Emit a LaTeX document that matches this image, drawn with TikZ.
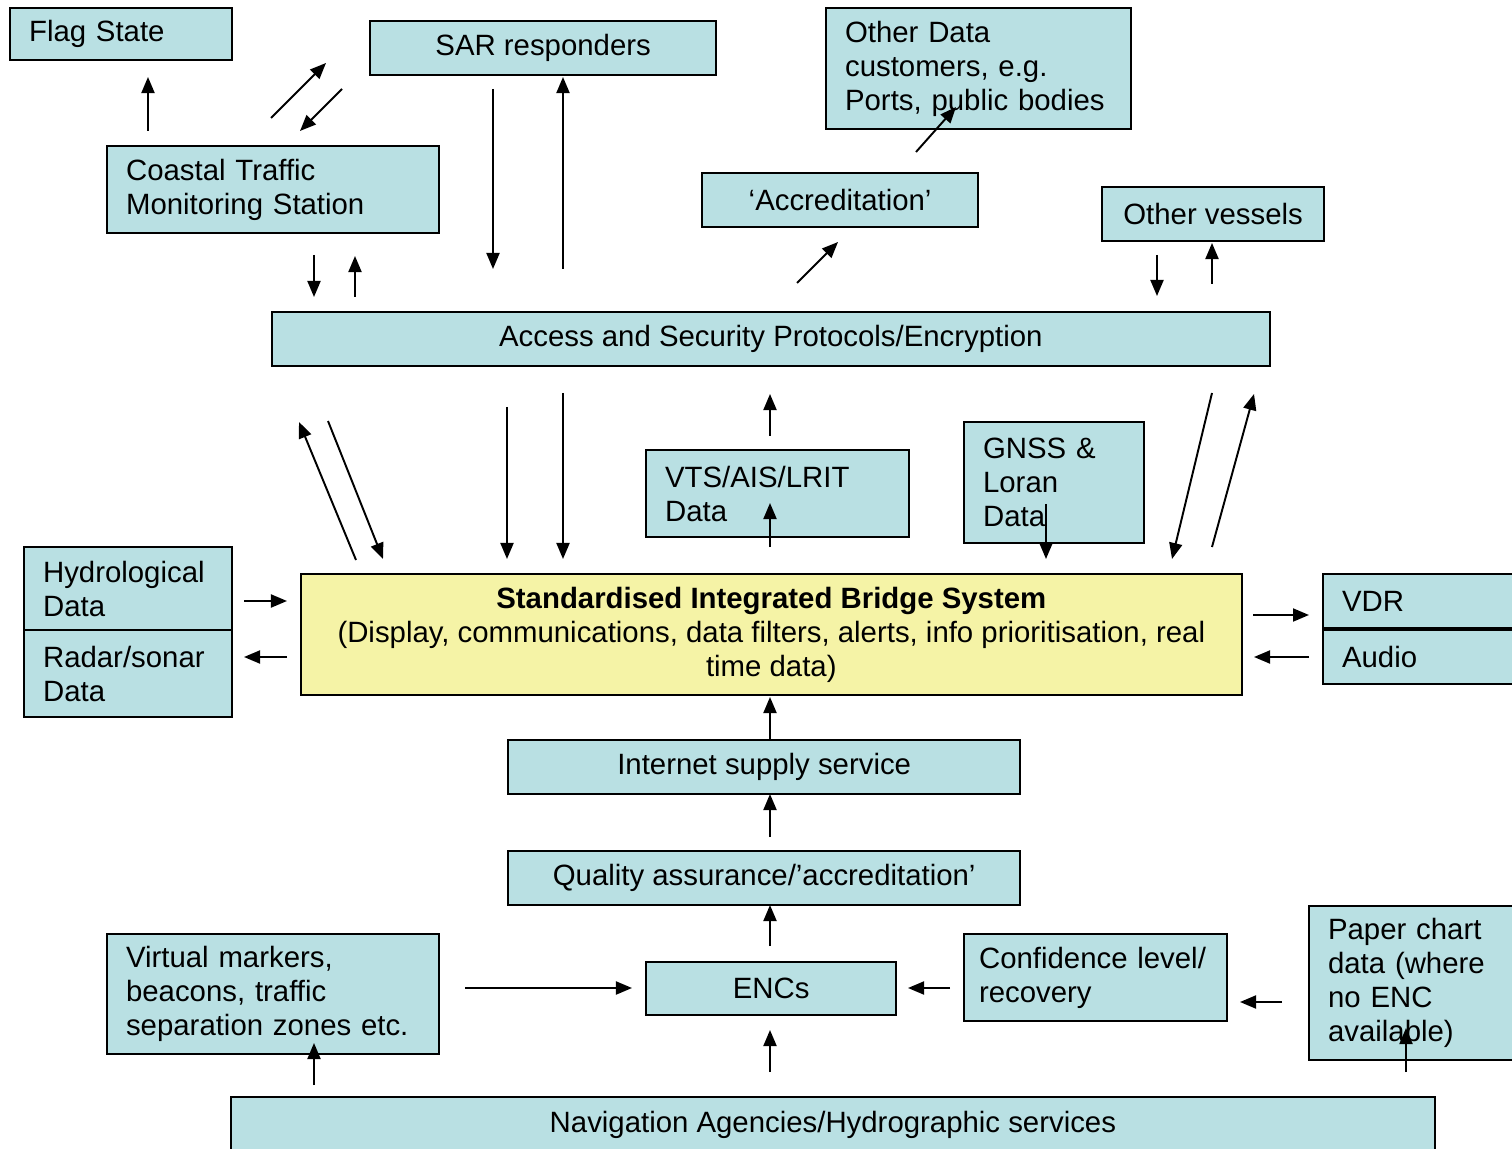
\documentclass[tikz,border=0pt]{standalone}
\usepackage{fontspec}
\setmainfont{Liberation Sans}
\usetikzlibrary{arrows.meta}
\definecolor{boxblue}{RGB}{185,224,227}
\definecolor{boxyellow}{RGB}{245,243,166}
\tikzset{
  box/.style={draw, fill=boxblue, line width=0.6pt, anchor=north west, inner sep=0pt,
    font=\fontsize{8.35}{9.67}\selectfont},
  cbox/.style={box, align=center},
  lbox/.style={box, align=left, inner xsep=0.19cm},
  arr/.style={line width=0.55pt, -{Triangle[length=1.6mm,width=1.3mm]}}
}
\begin{document}
\begin{tikzpicture}[x=0.01cm,y=-0.01cm]
\useasboundingbox (0,0) rectangle (1512,1149);

% boxes
\node[lbox, minimum width=2.22cm, minimum height=0.52cm, text width=1.84cm] (flag) at (9,7) {Flag State};
\node[cbox, minimum width=3.46cm, minimum height=0.54cm] (sar) at (369,20) {SAR responders};
\node[lbox, minimum width=3.05cm, minimum height=1.21cm, text width=2.67cm] (odata) at (825,7) {Other Data\\customers, e.g.\\Ports, public bodies};
\node[lbox, minimum width=3.32cm, minimum height=0.87cm, text width=2.94cm] (ctms) at (106,145) {Coastal Traffic\\Monitoring Station};
\node[cbox, minimum width=2.76cm, minimum height=0.54cm] (accr) at (701,172) {‘Accreditation’};
\node[cbox, minimum width=2.22cm, minimum height=0.54cm] (vessels) at (1101,186) {Other vessels};
\node[cbox, minimum width=9.97cm, minimum height=0.54cm] (access) at (271,311) {Access and Security Protocols/Encryption};
\node[lbox, minimum width=2.63cm, minimum height=0.87cm, text width=2.25cm] (vts) at (645,449) {VTS/AIS/LRIT\\Data};
\node[lbox, minimum width=1.80cm, minimum height=1.21cm, text width=1.42cm] (gnss) at (963,421) {GNSS \&\\Loran\\Data};
\node[lbox, minimum width=2.08cm, minimum height=0.83cm, text width=1.70cm] (hydro) at (23,546) {Hydrological\\Data};
\node[lbox, minimum width=2.08cm, minimum height=0.87cm, text width=1.70cm] (radar) at (23,629) {Radar/sonar\\Data};
\node[cbox, fill=boxyellow, minimum width=9.40cm, minimum height=1.21cm] (sibs) at (300,573) {\textbf{Standardised Integrated Bridge System}\\(Display, communications, data filters, alerts, info prioritisation, real\\time data)};
\node[lbox, minimum width=2.20cm, minimum height=0.54cm, text width=1.82cm] (vdr) at (1322,573) {VDR};
\node[lbox, minimum width=2.20cm, minimum height=0.54cm, text width=1.82cm] (audio) at (1322,629) {Audio};
\node[cbox, minimum width=5.12cm, minimum height=0.54cm] (internet) at (507,739) {Internet supply service};
\node[cbox, minimum width=5.12cm, minimum height=0.54cm] (qa) at (507,850) {Quality assurance/’accreditation’};
\node[cbox, minimum width=2.50cm, minimum height=0.53cm] (encs) at (645,961) {ENCs};
\node[lbox, minimum width=3.32cm, minimum height=1.20cm, text width=2.94cm] (virtual) at (106,933) {Virtual markers,\\beacons, traffic\\separation zones etc.};
\node[lbox, minimum width=2.63cm, minimum height=0.87cm, text width=2.33cm, inner xsep=0.15cm] (conf) at (963,933) {Confidence level/\\recovery};
\node[lbox, minimum width=2.30cm, minimum height=1.54cm, text width=1.92cm] (paper) at (1308,905) {Paper chart\\data (where\\no ENC\\available)};
\node[cbox, minimum width=12.03cm, minimum height=0.56cm] (nav) at (230,1096) {Navigation Agencies/Hydrographic services};

% arrow ends
\coordinate (flag-a) at (148,131);   \coordinate (flag-b) at (148,77);
\coordinate (sar-a) at (271,118);    \coordinate (sar-b) at (326,63);
\coordinate (sar-c) at (342,89);     \coordinate (sar-d) at (300,131);
\coordinate (ctms-a) at (314,255);   \coordinate (ctms-b) at (314,297);
\coordinate (ctms-c) at (355,297);   \coordinate (ctms-d) at (355,256);
\coordinate (sar-e) at (493,89);     \coordinate (sar-f) at (493,269);
\coordinate (sar-g) at (563,269);    \coordinate (sar-h) at (563,77);
\coordinate (odata-a) at (916,152);  \coordinate (odata-b) at (956,107);
\coordinate (accr-a) at (797,283);   \coordinate (accr-b) at (838,242);
\coordinate (ves-a) at (1157,255);   \coordinate (ves-b) at (1157,296);
\coordinate (ves-c) at (1212,284);   \coordinate (ves-d) at (1212,243);
\coordinate (acc-a) at (356,560);    \coordinate (acc-b) at (299,422);
\coordinate (acc-c) at (328,421);    \coordinate (acc-d) at (383,559);
\coordinate (acc-e) at (507,407);    \coordinate (acc-f) at (507,559);
\coordinate (acc-g) at (563,393);    \coordinate (acc-h) at (563,559);
\coordinate (vts-a) at (770,436);    \coordinate (vts-b) at (770,394);
\coordinate (vts-c) at (770,547);    \coordinate (vts-d) at (770,503);
\coordinate (gnss-a) at (1046,504);  \coordinate (gnss-b) at (1046,559);
\coordinate (acc-i) at (1212,393);   \coordinate (acc-j) at (1172,559);
\coordinate (acc-k) at (1212,547);   \coordinate (acc-l) at (1254,394);
\coordinate (hydro-a) at (244,601);  \coordinate (hydro-b) at (287,601);
\coordinate (radar-a) at (287,657);  \coordinate (radar-b) at (244,657);
\coordinate (vdr-a) at (1253,615);   \coordinate (vdr-b) at (1309,615);
\coordinate (audio-a) at (1309,657); \coordinate (audio-b) at (1254,657);
\coordinate (int-a) at (770,739);    \coordinate (int-b) at (770,697);
\coordinate (qa-a) at (770,837);     \coordinate (qa-b) at (770,794);
\coordinate (encs-a) at (770,946);   \coordinate (encs-b) at (770,905);
\coordinate (virt-a) at (465,988);   \coordinate (virt-b) at (632,988);
\coordinate (conf-a) at (950,988);   \coordinate (conf-b) at (908,988);
\coordinate (paper-a) at (1282,1002);\coordinate (paper-b) at (1240,1002);
\coordinate (nav-a) at (314,1085);   \coordinate (nav-b) at (314,1043);
\coordinate (nav-c) at (770,1072);   \coordinate (nav-d) at (770,1030);
\coordinate (nav-e) at (1406,1072);  \coordinate (nav-f) at (1406,1028);

% arrows
\draw[arr] (flag-a) -- (flag-b);
\draw[arr] (sar-a) -- (sar-b);
\draw[arr] (sar-c) -- (sar-d);
\draw[arr] (ctms-a) -- (ctms-b);
\draw[arr] (ctms-c) -- (ctms-d);
\draw[arr] (sar-e) -- (sar-f);
\draw[arr] (sar-g) -- (sar-h);
\draw[arr] (odata-a) -- (odata-b);
\draw[arr] (accr-a) -- (accr-b);
\draw[arr] (ves-a) -- (ves-b);
\draw[arr] (ves-c) -- (ves-d);
\draw[arr] (acc-a) -- (acc-b);
\draw[arr] (acc-c) -- (acc-d);
\draw[arr] (acc-e) -- (acc-f);
\draw[arr] (acc-g) -- (acc-h);
\draw[arr] (vts-a) -- (vts-b);
\draw[arr] (vts-c) -- (vts-d);
\draw[arr] (gnss-a) -- (gnss-b);
\draw[arr] (acc-i) -- (acc-j);
\draw[arr] (acc-k) -- (acc-l);
\draw[arr] (hydro-a) -- (hydro-b);
\draw[arr] (radar-a) -- (radar-b);
\draw[arr] (vdr-a) -- (vdr-b);
\draw[arr] (audio-a) -- (audio-b);
\draw[arr] (int-a) -- (int-b);
\draw[arr] (qa-a) -- (qa-b);
\draw[arr] (encs-a) -- (encs-b);
\draw[arr] (virt-a) -- (virt-b);
\draw[arr] (conf-a) -- (conf-b);
\draw[arr] (paper-a) -- (paper-b);
\draw[arr] (nav-a) -- (nav-b);
\draw[arr] (nav-c) -- (nav-d);
\draw[arr] (nav-e) -- (nav-f);
\end{tikzpicture}
\end{document}
